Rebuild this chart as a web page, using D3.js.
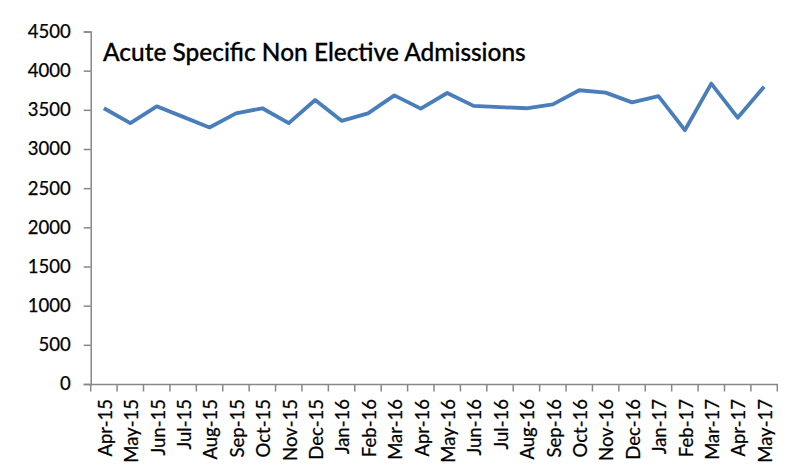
<!DOCTYPE html>
<html>
<head>
<meta charset="utf-8">
<script src="https://cdn.jsdelivr.net/npm/d3@7"></script>
<style>
  html, body { margin: 0; padding: 0; background: #fff; }
  svg { display: block; }
  text { font-family: Lato, "Open Sans", sans-serif; fill: #000; }
</style>
</head>
<body>
<svg id="chart" width="789" height="476"></svg>
<script>
// Monthly acute specific non-elective admissions
const months = ["Apr-15","May-15","Jun-15","Jul-15","Aug-15","Sep-15","Oct-15","Nov-15","Dec-15",
  "Jan-16","Feb-16","Mar-16","Apr-16","May-16","Jun-16","Jul-16","Aug-16","Sep-16","Oct-16",
  "Nov-16","Dec-16","Jan-17","Feb-17","Mar-17","Apr-17","May-17"];
const admissions = [3520,3330,3545,3410,3275,3455,3520,3330,3625,3360,3455,3685,3515,3715,
  3550,3535,3520,3570,3750,3720,3595,3675,3240,3835,3400,3795];
const yTicks = [0,500,1000,1500,2000,2500,3000,3500,4000,4500];
const title = "Acute Specific Non Elective Admissions";

const svg = d3.select("#chart");
const plotLeft = 90.7, plotRight = 777.3, plotTop = 31.5, plotBottom = 384;
const axisColor = "#878787";

const x = d3.scaleBand().domain(months).range([plotLeft, plotRight]).padding(0);
const y = d3.scaleLinear().domain([0, 4500]).range([plotBottom, plotTop]);

// Y axis
const yAxis = svg.append("g")
  .attr("transform", `translate(${plotLeft},0)`)
  .call(d3.axisLeft(y).tickValues(yTicks).tickSize(7).tickPadding(13).tickFormat(d3.format("d")));
yAxis.select(".domain").attr("stroke", axisColor).attr("stroke-width", 1.5);
yAxis.selectAll(".tick line").attr("stroke", axisColor).attr("stroke-width", 1.5);
yAxis.selectAll(".tick text").attr("font-size", 18.5).attr("fill", "#000")
  .attr("stroke", "#000").attr("stroke-width", 0.25)
  .style("font-family", "Lato, 'Open Sans', sans-serif");

// X axis: labels at category centres, tick marks on category boundaries
const xAxis = svg.append("g")
  .attr("transform", `translate(0,${plotBottom})`)
  .call(d3.axisBottom(x).tickSize(0));
xAxis.select(".domain").attr("stroke", axisColor).attr("stroke-width", 1.5);
xAxis.selectAll(".tick text")
  .attr("font-size", 18.5)
  .attr("fill", "#000")
  .attr("stroke", "#000").attr("stroke-width", 0.25)
  .style("font-family", "Lato, 'Open Sans', sans-serif")
  .attr("transform", "rotate(-90)")
  .attr("text-anchor", "end")
  .attr("x", -15)
  .attr("y", 0)
  .attr("dy", "0.42em");

const boundaries = months.map(m => x(m)).concat([x(months[months.length - 1]) + x.bandwidth()]);
xAxis.selectAll(".bound")
  .data(boundaries)
  .join("line")
  .attr("class", "bound")
  .attr("x1", d => d).attr("x2", d => d)
  .attr("y1", 0).attr("y2", 7.5)
  .attr("stroke", axisColor).attr("stroke-width", 1.5);

// Series line
const line = d3.line()
  .x((d, i) => x(months[i]) + x.bandwidth() / 2)
  .y(d => y(d));
svg.append("path")
  .datum(admissions)
  .attr("d", line)
  .attr("fill", "none")
  .attr("stroke", "#4a7ebb")
  .attr("stroke-width", 3.8)
  .attr("stroke-linejoin", "round");

// Title
const t = svg.append("text")
  .attr("x", 103)
  .attr("y", 61)
  .attr("font-size", 21)
  .attr("font-weight", 500)
  .attr("stroke", "#000").attr("stroke-width", 0.3)
  .text(title);
const w = t.node().getComputedTextLength();
t.attr("font-size", 21 * 423 / w);
</script>
</body>
</html>
